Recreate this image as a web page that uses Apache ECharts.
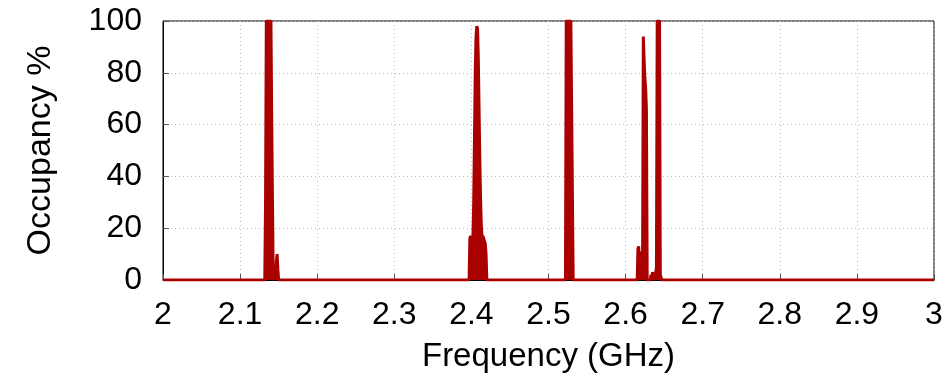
<!DOCTYPE html>
<html>
<head>
<meta charset="utf-8">
<script src="https://cdn.jsdelivr.net/npm/echarts@6/dist/echarts.min.js"></script>
<style>
html,body{margin:0;padding:0;background:#fff;}
#c{width:946px;height:386px;}
</style>
</head>
<body>
<div id="c"></div>
<script>
// Frequency (GHz) samples and occupancy (%) values
var freq = [
  2.000, 2.132,
  2.133, 2.134, 2.135, 2.136, 2.137, 2.138, 2.139, 2.140, 2.141, 2.142, 2.143,
  2.145, 2.146, 2.147, 2.148, 2.149, 2.150,
  2.397, 2.398, 2.399, 2.400, 2.401, 2.402, 2.403, 2.404, 2.405, 2.406, 2.407,
  2.408, 2.409, 2.410, 2.411, 2.412, 2.413, 2.414, 2.415, 2.416, 2.417, 2.418,
  2.419, 2.420,
  2.522, 2.523, 2.524, 2.525, 2.526, 2.527, 2.528, 2.529, 2.530, 2.531, 2.532,
  2.615, 2.616, 2.617, 2.618, 2.619, 2.620, 2.621, 2.622, 2.623, 2.624, 2.625,
  2.626, 2.627, 2.628, 2.632, 2.633, 2.634, 2.635, 2.636, 2.637, 2.638, 2.639,
  2.640, 2.641, 2.642, 2.643, 2.644, 2.645, 2.646, 2.647,
  3.000
];
var occupancy = [
  0, 0,
  30, 100, 100, 100, 100, 100, 100, 100, 62, 30, 0,
  0, 2, 7, 10, 4, 0,
  0, 16, 17, 16, 17, 16, 30, 55, 80, 94, 98,
  97, 85, 65, 45, 30, 20, 16, 17, 16, 15, 14,
  10, 0,
  0, 100, 100, 100, 100, 100, 100, 100, 100, 100, 0,
  0, 12, 13, 6, 11, 2, 0, 5, 94, 85, 78,
  74, 66, 0, 0, 2, 1, 3, 3, 1, 0, 0,
  5, 100, 100, 100, 100, 2, 1, 0,
  0
];
var xTicks = [2, 2.1, 2.2, 2.3, 2.4, 2.5, 2.6, 2.7, 2.8, 2.9, 3];
var yTicks = [0, 20, 40, 60, 80, 100];

var points = freq.map(function (f, i) { return [f, occupancy[i]]; });
var fontFam = '"Liberation Sans", Arial, Helvetica, sans-serif';

var chart = echarts.init(document.getElementById('c'), null, {renderer: 'canvas'});
chart.setOption({
  animation: false,
  backgroundColor: '#fff',
  grid: {left: 163, right: 12, top: 21, bottom: 106, show: true, borderColor: '#000', borderWidth: 1},
  xAxis: {
    type: 'value', min: xTicks[0], max: xTicks[xTicks.length - 1], interval: 0.1,
    name: 'Frequency (GHz)', nameLocation: 'middle', nameGap: 60,
    nameTextStyle: {fontFamily: fontFam, fontSize: 33, color: '#000'},
    axisLine: {show: true, lineStyle: {color: '#000', width: 1}},
    axisTick: {show: true, inside: true, length: 6, lineStyle: {color: '#555'}},
    axisLabel: {fontFamily: fontFam, fontSize: 32, color: '#000', margin: 19,
      formatter: function (v) { return String(Math.round(v * 10) / 10); }},
    splitLine: {show: true, lineStyle: {color: '#bbb', type: [1, 3], width: 1}}
  },
  yAxis: {
    type: 'value', min: yTicks[0], max: yTicks[yTicks.length - 1], interval: 20,
    name: 'Occupancy %', nameLocation: 'middle', nameGap: 105,
    nameTextStyle: {fontFamily: fontFam, fontSize: 34, color: '#000'},
    axisLine: {show: true, lineStyle: {color: '#000', width: 1}},
    axisTick: {show: true, inside: true, length: 6, lineStyle: {color: '#555'}},
    axisLabel: {fontFamily: fontFam, fontSize: 32, color: '#000', margin: 21},
    splitLine: {show: true, lineStyle: {color: '#bbb', type: [1, 3], width: 1}}
  },
  series: [{
    type: 'line',
    data: points,
    showSymbol: false,
    symbol: 'none',
    lineStyle: {color: '#aa0000', width: 3},
    areaStyle: {color: '#aa0000', opacity: 1},
    itemStyle: {color: '#aa0000'},
    clip: true
  }]
});
</script>
</body>
</html>
